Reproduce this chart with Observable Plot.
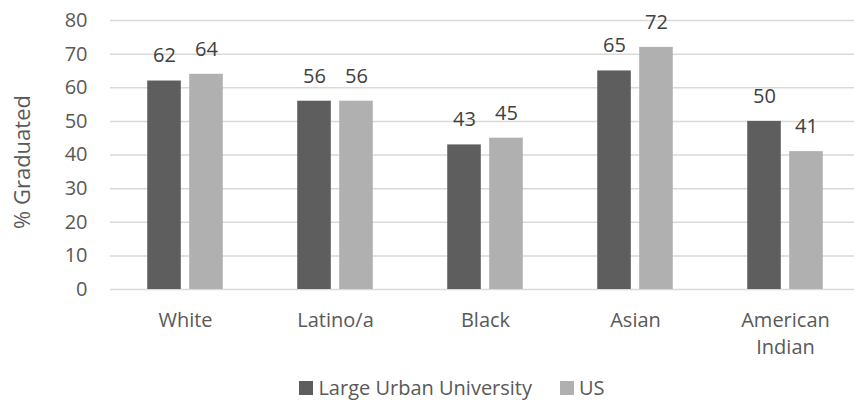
<!DOCTYPE html>
<html>
<head>
<meta charset="utf-8">
<script src="https://cdn.jsdelivr.net/npm/d3@7"></script>
<script src="https://cdn.jsdelivr.net/npm/@observablehq/plot@0.6"></script>
<style>
  html, body { margin: 0; padding: 0; background: #fff; }
  #chart { width: 854px; }
  .legend { width: 854px; height: 31px; box-sizing: border-box; padding-left: 50px;
    display: flex; justify-content: center; align-items: center;
    font-family: "Open Sans", sans-serif; font-size: 20px; color: #595959; }
  .legend .item { display: flex; align-items: center; margin: 0 14px; }
  .legend .sw { width: 14px; height: 14px; margin-right: 5px; }
</style>
</head>
<body>
<div id="chart"></div>
<script>
const categories = ["White", "Latino/a", "Black", "Asian", "American Indian"];
const series = ["Large Urban University", "US"];
const largeUrban = [62, 56, 43, 65, 50];
const us = [64, 56, 45, 72, 41];
const yTicks = [0, 10, 20, 30, 40, 50, 60, 70, 80];
const colors = ["#5e5e5e", "#b0b0b0"];
const yLabel = "% Graduated";

const data = [];
categories.forEach((c, i) => {
  data.push({category: c, series: series[0], value: largeUrban[i]});
  data.push({category: c, series: series[1], value: us[i]});
});

const W = 854, H = 372;
const chart = Plot.plot({
  width: W,
  height: H,
  marginLeft: 110,
  marginRight: 0,
  marginTop: 20,
  marginBottom: 83,
  style: {fontFamily: "'Open Sans', sans-serif", fontSize: "20px", color: "#595959", background: "white", overflow: "hidden"},
  fx: {domain: categories, range: [110, 860], paddingInner: 0, paddingOuter: 0, round: false, axis: null, label: null},
  x: {domain: series, paddingInner: 0.2, paddingOuter: 0.887, round: false, axis: null},
  y: {domain: [0, 80], ticks: yTicks, tickSize: 0, tickPadding: 23, label: null},
  color: {domain: series, range: colors},
  marks: [
    Plot.ruleY(yTicks, {stroke: "#d9d9d9", strokeWidth: 1.5}),
    Plot.barY(data, {fx: "category", x: "series", y: "value", fill: "series"}),
    Plot.text(data, {fx: "category", x: "series", y: "value", text: d => String(d.value), dy: -25, fill: "#404040"}),
    Plot.text(categories, {fx: d => d, text: d => d === "American Indian" ? "American\nIndian" : d,
      frameAnchor: "bottom", lineAnchor: "top", dy: 18, lineHeight: 1.35, fill: "#595959"}),
    Plot.text([yLabel], {fx: () => categories[0], text: d => d, frameAnchor: "left", textAnchor: "middle", rotate: -90,
      dx: -88, dy: 7, fontSize: 22, fill: "#595959"})
  ]
});
document.getElementById("chart").appendChild(chart);

const legend = document.createElement("div");
legend.className = "legend";
series.forEach((s, i) => {
  const item = document.createElement("div");
  item.className = "item";
  const sw = document.createElement("span");
  sw.className = "sw";
  sw.style.background = colors[i];
  const t = document.createElement("span");
  t.textContent = s;
  item.appendChild(sw);
  item.appendChild(t);
  legend.appendChild(item);
});
document.body.appendChild(legend);
</script>
</body>
</html>
